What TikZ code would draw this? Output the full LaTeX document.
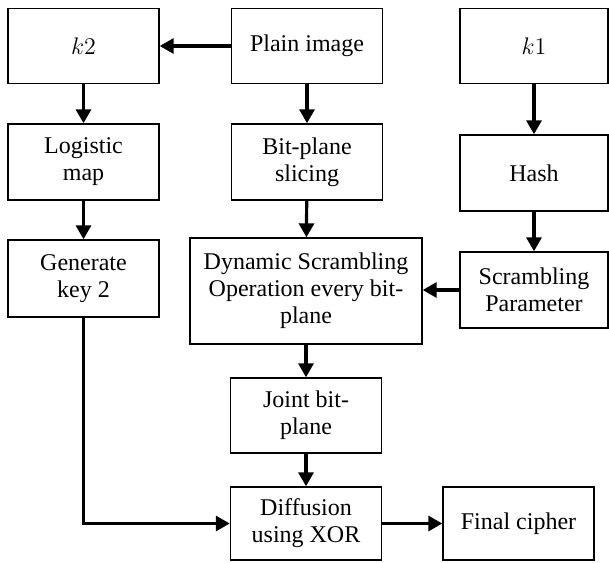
\documentclass[tikz,border=0pt]{standalone}
\usepackage{fontspec}
\setmainfont{Liberation Serif}
\usepackage{tikz}
\usetikzlibrary{arrows.meta}

\begin{document}
\begin{tikzpicture}[
  x=0.5pt, y=-0.5pt,
  box/.style={draw, line width=0.7pt, minimum width=75.5pt, minimum height=37.5pt, inner sep=2pt, align=center, font=\fontsize{12}{13.6}\selectfont},
  arr/.style={-{Triangle[length=7pt,width=7.5pt]}, line width=1.6pt},
]
\useasboundingbox (0,0) rectangle (609,562);

\node[box] (k2)    at (83.5,46)  {$k2$};
\node[box] (plain) at (307,46)   {Plain image};
\node[box, minimum width=74pt] (k1) at (534,46) {$k1$};

\node[box, minimum height=38pt] (logmap) at (83.5,162) {Logistic\\map};
\node[box, minimum height=38pt] (slice)  at (307,162)  {Bit-plane\\slicing};
\node[box, minimum width=74pt, minimum height=38pt] (hash) at (534,173) {Hash};

\node[box, minimum height=38.5pt] (genkey) at (83.5,278.5) {Generate\\key 2};
\node[box, minimum width=116pt, minimum height=53pt] (dyn) at (306,291) {Dynamic Scrambling\\Operation every bit-\\plane};
\node[box, minimum width=74pt, minimum height=38pt] (scram) at (534,290) {Scrambling\\Parameter};

\node[box] (joint) at (306,415.5) {Joint bit-\\plane};
\node[box, minimum height=36.5pt] (diff)  at (306,523.5) {Diffusion\\using XOR};
\node[box, minimum height=36.5pt] (final) at (518.5,523.5) {Final cipher};

\draw[arr] (plain) -- (k2);
\draw[arr] (k2) -- (logmap);
\draw[arr] (logmap) -- (genkey);
\draw[arr] (plain) -- (slice);
\draw[arr] (slice) -- (dyn);
\draw[arr] (k1) -- (hash);
\draw[arr] (hash) -- (scram);
\draw[arr] (scram.west) -- (scram.west -| dyn.east);
\draw[arr] (dyn) -- (joint);
\draw[arr] (joint) -- (diff);
\draw[arr] (genkey.south) |- (diff.west);
\draw[arr] (diff) -- (final);
\end{tikzpicture}
\end{document}
